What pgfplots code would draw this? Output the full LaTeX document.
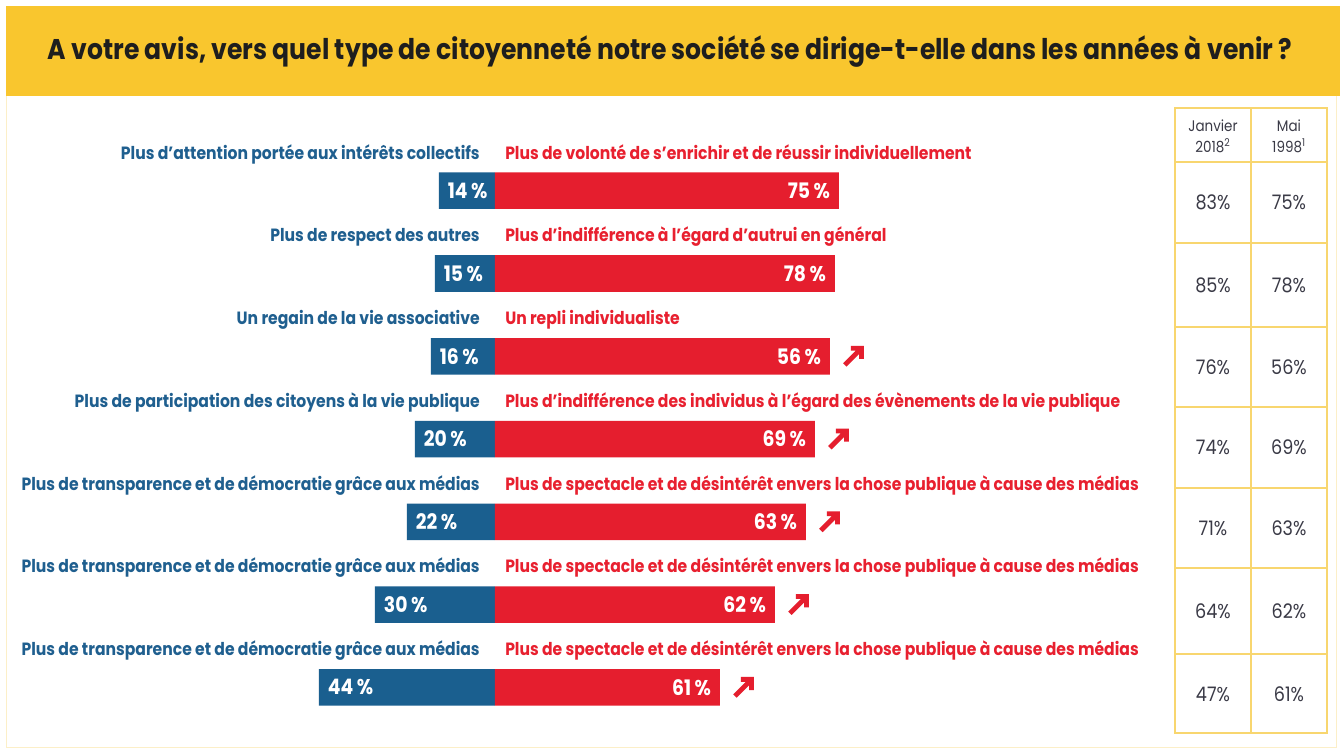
\documentclass[border=0pt]{standalone}
\usepackage{fontspec}
\setmainfont{Poppins}[FakeStretch=0.88]
\usepackage{pgfplots}
\usepackage{pgfplotstable}
\pgfplotsset{compat=1.18}
\definecolor{band}{HTML}{F9C62E}
\definecolor{bluec}{HTML}{1A5F8F}
\definecolor{redc}{HTML}{E51E2E}
\definecolor{bluet}{HTML}{1F5F8F}
\definecolor{redt}{HTML}{E8202F}
\definecolor{tline}{HTML}{F8D66F}
\definecolor{ttext}{HTML}{3A3A46}
\definecolor{frame}{HTML}{FCEFC8}
\definecolor{titlec}{HTML}{1E1E1E}

\pgfdeclareplotmark{nearrow}{%
  \pgfsetlinewidth{3.6pt}\pgfsetmiterjoin\pgfsetbuttcap
  \pgfpathmoveto{\pgfqpoint{-6.5pt}{-6.5pt}}\pgfpathlineto{\pgfqpoint{5.2pt}{5.2pt}}
  \pgfpathmoveto{\pgfqpoint{-2pt}{6pt}}\pgfpathlineto{\pgfqpoint{6pt}{6pt}}\pgfpathlineto{\pgfqpoint{6pt}{-2pt}}
  \pgfusepathqstroke}

% row: 0 = top; blue = left share (%), red = drawn length of red bar, redlab = printed value
\pgfplotstableread{
row blue red redlab
0 14 86 75
1 15 85 78
2 16 83.75 56
3 20 80 69
4 22 77.75 63
5 30 70 62
6 44 56.25 61
}\bars
\pgfplotstableread{
row red
2 83.75
3 80
4 77.75
5 70
6 56.25
}\ups

\newcommand\lab{\fontsize{13.3}{15}\selectfont\bfseries}
\newcommand\val{\fontsize{16}{18}\selectfont\bfseries}

\begin{document}
\begin{tikzpicture}
\begin{scope}[x=0.75pt,y=-0.75pt]
\path[use as bounding box, fill=white] (0,0) rectangle (1340,751);
\draw[frame, line width=0.75pt] (6.5,96) -- (6.5,747) -- (1336,747) -- (1336,96);
\fill[band] (6,6) rectangle (1340,96);
\node[anchor=base, text=titlec, font=\fontsize{21.4}{25}\selectfont\bfseries] at (670,59)
  {A votre avis, vers quel type de citoyenneté notre société se dirige-t-elle dans les années à venir ?};
\end{scope}

\begin{axis}[at={(0pt,0pt)}, anchor=north west,
  width=1005pt, height=563.25pt, scale only axis, hide axis, clip=false,
  xmin=-123.75, xmax=211.25, ymin=-2.304, ymax=6.769, y dir=reverse,
  bar width=27.4pt]
\addplot[xbar, bar shift=0pt, fill=bluec, draw=none,
  point meta=explicit symbolic,
  nodes near coords={\pgfplotspointmeta\,\%},
  nodes near coords style={anchor=west, xshift=6.5pt, text=white, font=\val, inner sep=0pt}]
  table[x expr=-\thisrow{blue}, y=row, meta=blue] {\bars};
\addplot[xbar, bar shift=0pt, fill=redc, draw=none,
  point meta=explicit symbolic,
  nodes near coords={\pgfplotspointmeta\,\%},
  nodes near coords style={anchor=east, xshift=-6.5pt, text=white, font=\val, inner sep=0pt}]
  table[x=red, y=row, meta=redlab] {\bars};
\addplot[only marks, mark=nearrow, color=redc]
  table[x expr=\thisrow{red}+5.9, y=row] {\ups};

\def\dy{0.383}
\node[anchor=base east, text=bluet, font=\lab, inner sep=0pt] at (axis cs:-3.75,0-\dy) {Plus d’attention portée aux intérêts collectifs};
\node[anchor=base west, text=redt, font=\lab, inner sep=0pt] at (axis cs:2.5,0-\dy) {Plus de volonté de s’enrichir et de réussir individuellement};
\node[anchor=base east, text=bluet, font=\lab, inner sep=0pt] at (axis cs:-3.75,1-\dy) {Plus de respect des autres};
\node[anchor=base west, text=redt, font=\lab, inner sep=0pt] at (axis cs:2.5,1-\dy) {Plus d’indifférence à l’égard d’autrui en général};
\node[anchor=base east, text=bluet, font=\lab, inner sep=0pt] at (axis cs:-3.75,2-\dy) {Un regain de la vie associative};
\node[anchor=base west, text=redt, font=\lab, inner sep=0pt] at (axis cs:2.5,2-\dy) {Un repli individualiste};
\node[anchor=base east, text=bluet, font=\lab, inner sep=0pt] at (axis cs:-3.75,3-\dy) {Plus de participation des citoyens à la vie publique};
\node[anchor=base west, text=redt, font=\lab, inner sep=0pt] at (axis cs:2.5,3-\dy) {Plus d’indifférence des individus à l’égard des évènements de la vie publique};
\node[anchor=base east, text=bluet, font=\lab, inner sep=0pt] at (axis cs:-3.75,4-\dy) {Plus de transparence et de démocratie grâce aux médias};
\node[anchor=base west, text=redt, font=\lab, inner sep=0pt] at (axis cs:2.5,4-\dy) {Plus de spectacle et de désintérêt envers la chose publique à cause des médias};
\node[anchor=base east, text=bluet, font=\lab, inner sep=0pt] at (axis cs:-3.75,5-\dy) {Plus de transparence et de démocratie grâce aux médias};
\node[anchor=base west, text=redt, font=\lab, inner sep=0pt] at (axis cs:2.5,5-\dy) {Plus de spectacle et de désintérêt envers la chose publique à cause des médias};
\node[anchor=base east, text=bluet, font=\lab, inner sep=0pt] at (axis cs:-3.75,6-\dy) {Plus de transparence et de démocratie grâce aux médias};
\node[anchor=base west, text=redt, font=\lab, inner sep=0pt] at (axis cs:2.5,6-\dy) {Plus de spectacle et de désintérêt envers la chose publique à cause des médias};
\end{axis}

\begin{scope}[x=0.75pt,y=-0.75pt]
\draw[tline, line width=1.5pt] (1175,108) rectangle (1327,733);
\draw[tline, line width=1.5pt] (1251,108) -- (1251,733);
\foreach \yy in {162,243,327,407,488,568,654}
  \draw[tline, line width=1.5pt] (1175,\yy) -- (1327,\yy);
\begin{scope}[every node/.style={text=ttext, font=\fontsize{11.5}{13}\selectfont, inner sep=0pt}]
\node at (1213,126) {Janvier};
\node at (1213,146) {2018\textsuperscript{2}};
\node at (1289,126) {Mai};
\node at (1289,146) {1998\textsuperscript{1}};
\end{scope}
\begin{scope}[every node/.style={text=ttext, font=\fontsize{15}{17}\selectfont, inner sep=0pt}]
\foreach \yy/\a/\b in {202.5/83/75, 285/85/78, 367/76/56, 447.5/74/69, 528/71/63, 611/64/62, 694/47/61}{
  \node at (1213,\yy) {\a\%};
  \node at (1289,\yy) {\b\%};
}
\end{scope}
\end{scope}
\end{tikzpicture}
\end{document}
